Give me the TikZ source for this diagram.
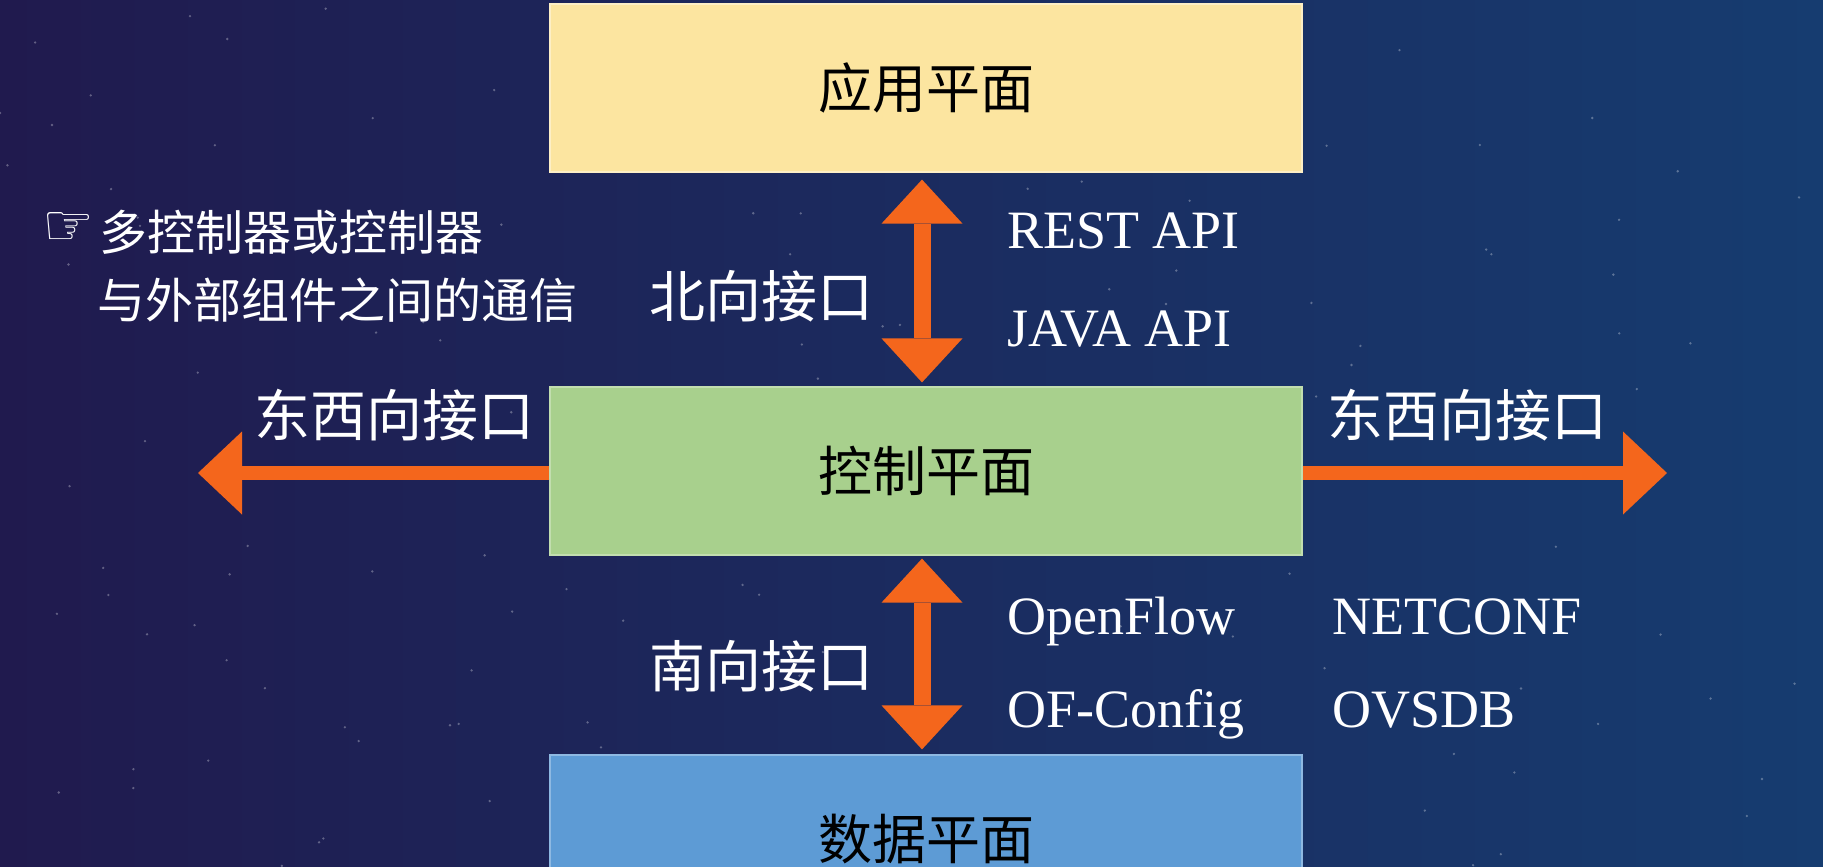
\documentclass[tikz,border=0pt]{standalone}
\usepackage{fontspec}
\setmainfont{Liberation Serif}
\newfontfamily\cjk{Noto Sans CJK SC}
\newfontfamily\symfont{DejaVu Sans}
\usetikzlibrary{arrows.meta}
\definecolor{bgleft}{RGB}{32,26,78}
\definecolor{bgmid}{RGB}{15,38,88}
\definecolor{bgright}{RGB}{22,60,112}
\definecolor{appyellow}{RGB}{252,229,160}
\definecolor{ctrlgreen}{RGB}{168,208,141}
\definecolor{datablue}{RGB}{93,155,213}
\definecolor{arroworange}{RGB}{244,102,28}
\tikzset{
  plane/.style={minimum width=752pt, minimum height=168pt, inner sep=0pt,
    line width=1.2pt, font=\cjk\fontsize{54}{60}\selectfont, text=black},
  lbl/.style={inner sep=0pt, text=white, font=\cjk\fontsize{56}{60}\selectfont},
  note/.style={inner sep=0pt, text=white, font=\cjk\fontsize{48}{54}\selectfont, anchor=west},
  lat/.style={inner sep=0pt, text=white, font=\fontsize{54}{60}\selectfont, anchor=base west},
  vbar/.style={draw=arroworange, line width=17pt,
    {Triangle[width=81pt,length=44pt,line width=0pt]}-{Triangle[width=81pt,length=44pt,line width=0pt]}},
  hbar/.style={draw=arroworange, line width=14pt,
    -{Triangle[width=83pt,length=44pt,line width=0pt]}}
}
\begin{document}
\begin{tikzpicture}[x=1pt,y=-1pt]
\useasboundingbox (0,0) rectangle (1823,867);
\clip (0,0) rectangle (1823,867);
\shade[left color=bgleft, middle color=bgmid, right color=bgright] (0,0) rectangle (1823,867);
\pgfmathsetseed{7}
\foreach \i in {1,...,140} {
  \pgfmathsetmacro\sx{rnd*1823}
  \pgfmathsetmacro\sy{rnd*867}
  \fill[white, opacity=0.3] (\sx,\sy) circle (1.3);
}
% planes
\node[plane, fill=appyellow, draw=appyellow!60!white] (app) at (926,88) {应用平面};
\node[plane, fill=ctrlgreen, draw=ctrlgreen!70!white] (ctrl) at (926,471) {控制平面};
\node[plane, fill=datablue, draw=datablue!70!white] (data) at (926,839) {数据平面};
% arrows
\draw[vbar] ([xshift=-4pt,yshift=-7pt]app.south) -- ([xshift=-4pt,yshift=4pt]ctrl.north);
\draw[vbar] ([xshift=-4pt,yshift=-3pt]ctrl.south) -- ([xshift=-4pt,yshift=5pt]data.north);
\coordinate (wtip) at (198,473);
\coordinate (etip) at (1667,473);
\draw[hbar] ([yshift=-2pt]ctrl.west) -- (wtip);
\draw[hbar] ([yshift=-2pt]ctrl.east) -- (etip);
% labels
\node[lbl] (north) at (761,296) {北向接口};
\node[lbl] (south) at (761,666) {南向接口};
\node[lbl] (ewl) at (394,415) {东西向接口};
\node[lbl] (ewr) at (1467,415) {东西向接口};
\node[lat] (rest) at (1007,248) {REST API};
\node[lat] (java) at (1007,346) {JAVA API};
\node[lat] (of) at (1007,634) {OpenFlow};
\node[lat] (ofc) at (1007,727) {OF-Config};
\node[lat] (netconf) at (1332,634) {NETCONF};
\node[lat] (ovsdb) at (1332,727) {OVSDB};
% note
\node[note] (n1) at (99,232) {多控制器或控制器};
\node[note] (n2) at (97,300) {与外部组件之间的通信};
\node[inner sep=0pt, text=white, font=\symfont\fontsize{58}{60}\selectfont, anchor=east]
  (hand) at ([xshift=-4pt,yshift=3pt]n1.west) {☞};
\end{tikzpicture}
\end{document}
